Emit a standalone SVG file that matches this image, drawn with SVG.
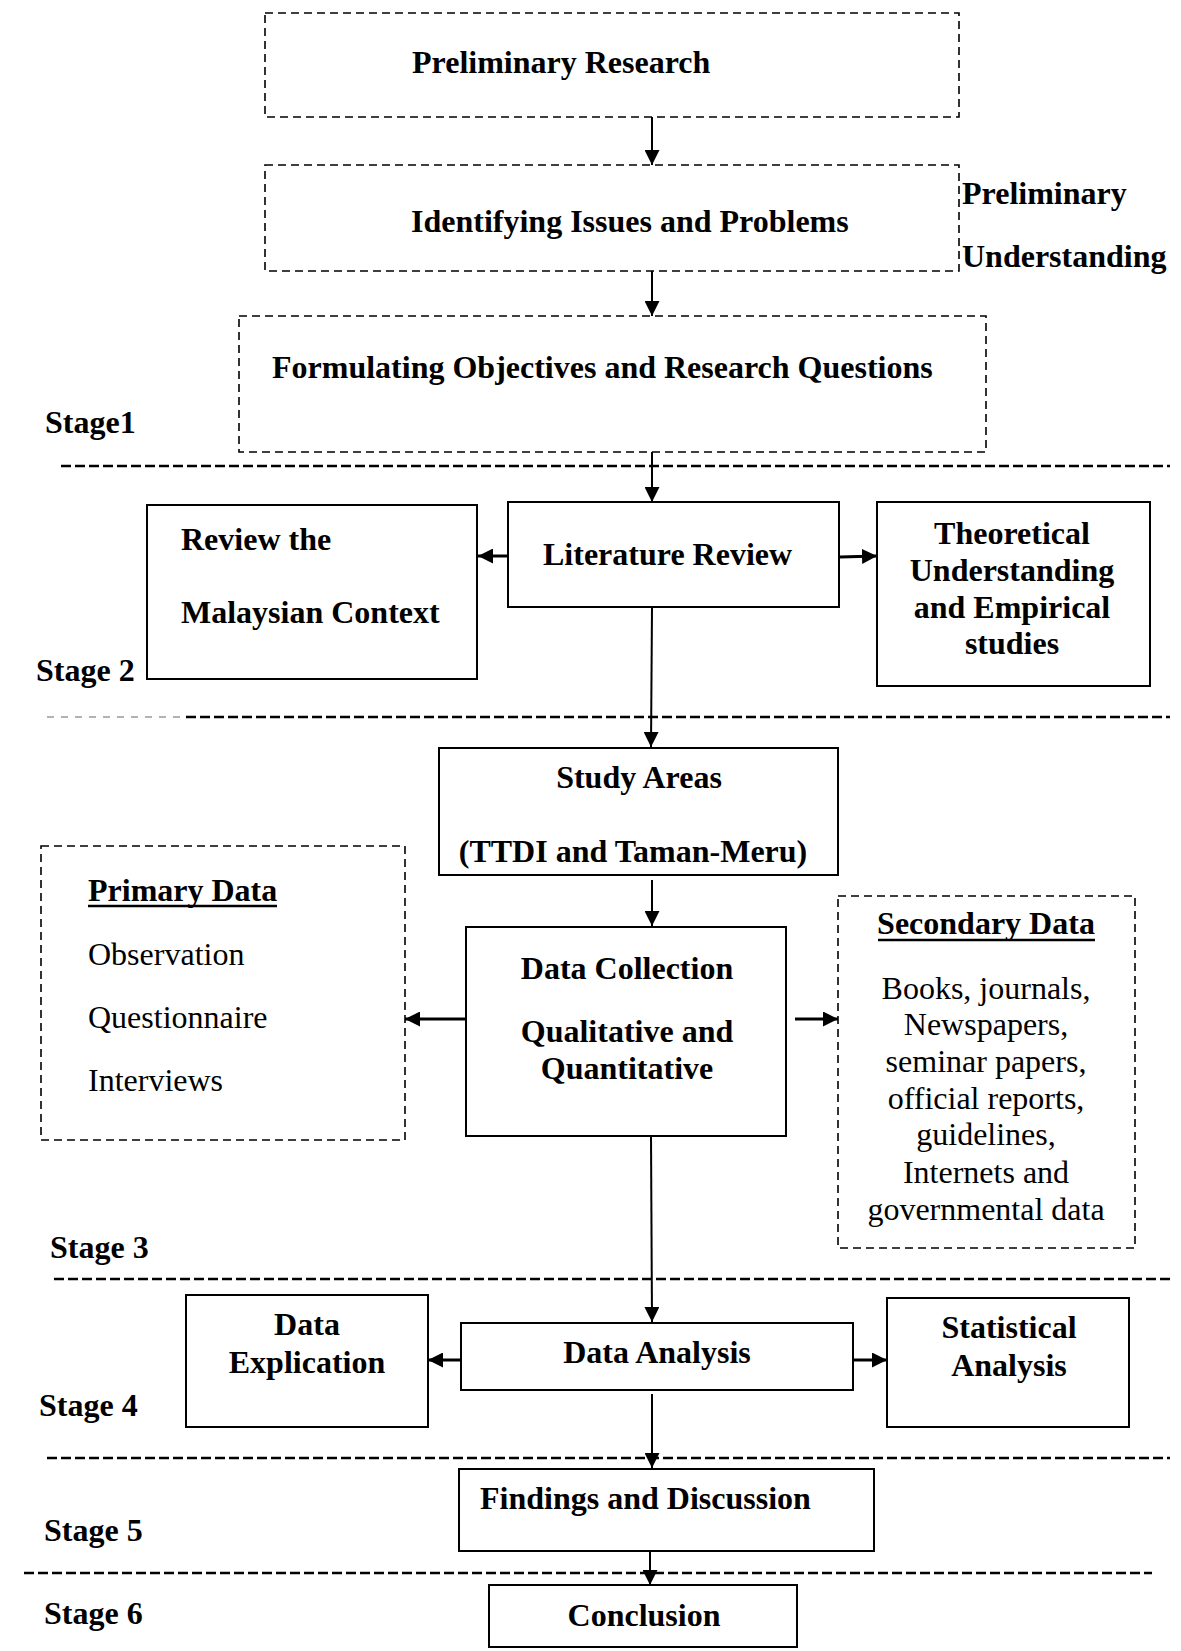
<svg xmlns="http://www.w3.org/2000/svg" width="1181" height="1651" viewBox="0 0 1181 1651">
<style>
  text { font-family: "Liberation Serif", "Times New Roman", serif; font-size: 32px; fill: #000; }
  .b { font-weight: bold; }
  .m { text-anchor: middle; }
  .box { fill: #fff; stroke: #000; stroke-width: 2; }
  .dbox { fill: #fff; stroke: #000; stroke-width: 1.6; stroke-dasharray: 8 5; }
  .sep { stroke: #000; stroke-width: 2.5; stroke-dasharray: 10 4; fill: none; }
  .sepg { stroke: #999; stroke-width: 1.3; stroke-dasharray: 7 7; fill: none; }
  .v { stroke: #000; stroke-width: 2; fill: none; marker-end: url(#ah); }
  .h { stroke: #000; stroke-width: 3; fill: none; marker-end: url(#ah); }
  .u { stroke: #000; stroke-width: 2.5; }
</style>
<defs>
  <marker id="ah" markerUnits="userSpaceOnUse" markerWidth="15" markerHeight="15" refX="15" refY="7.5" viewBox="0 0 15 15" orient="auto">
    <path d="M0,0 L15,7.5 L0,15 Z" fill="#000"/>
  </marker>
</defs>
<rect width="1181" height="1651" fill="#fff"/>

<g id="separators">
  <line class="sep" x1="61" y1="466" x2="1170" y2="466"/>
  <line class="sepg" x1="47" y1="717" x2="182" y2="717"/>
  <line class="sep" x1="186" y1="717" x2="1170" y2="717"/>
  <line class="sep" x1="54" y1="1279" x2="1170" y2="1279"/>
  <line class="sep" x1="47" y1="1458" x2="1170" y2="1458"/>
  <line class="sep" x1="24" y1="1573" x2="1152" y2="1573"/>
</g>

<g id="stage-labels">
  <text class="b" x="45" y="433">Stage1</text>
  <text class="b" x="36" y="681">Stage 2</text>
  <text class="b" x="50" y="1258">Stage 3</text>
  <text class="b" x="39" y="1416">Stage 4</text>
  <text class="b" x="44" y="1541">Stage 5</text>
  <text class="b" x="44" y="1624">Stage 6</text>
</g>

<g id="connectors">
  <line class="v" x1="652" y1="117" x2="652" y2="165"/>
  <line class="v" x1="652" y1="265" x2="652" y2="316"/>
  <line class="v" x1="652" y1="452" x2="652" y2="502"/>
  <line class="h" x1="510" y1="556" x2="478" y2="556"/>
  <line class="h" x1="840" y1="557" x2="877" y2="556"/>
  <line class="v" x1="652" y1="607" x2="651" y2="747"/>
  <line class="v" x1="652" y1="880" x2="652" y2="926"/>
  <line class="h" x1="465" y1="1019" x2="405" y2="1019"/>
  <line class="h" x1="795" y1="1019" x2="838" y2="1019"/>
  <line class="v" x1="651" y1="1136" x2="652" y2="1322"/>
  <line class="h" x1="461" y1="1360" x2="428" y2="1360"/>
  <line class="h" x1="853" y1="1360" x2="887" y2="1360"/>
  <line class="v" x1="652" y1="1394" x2="652" y2="1468"/>
  <line class="v" x1="650" y1="1546" x2="650" y2="1585"/>
</g>

<g id="preliminary-research">
  <rect class="dbox" x="265" y="13" width="694" height="104"/>
  <text class="b" x="412" y="73">Preliminary Research</text>
</g>

<g id="identifying-issues">
  <rect class="dbox" x="265" y="165" width="694" height="106"/>
  <text class="b" x="411" y="232">Identifying Issues and Problems</text>
</g>

<g id="preliminary-understanding">
  <text class="b" x="962" y="204">Preliminary</text>
  <text class="b" x="962" y="267">Understanding</text>
</g>

<g id="formulating-objectives">
  <rect class="dbox" x="239" y="316" width="747" height="136"/>
  <text class="b" x="272" y="378">Formulating Objectives and Research Questions</text>
</g>

<g id="review-malaysian-context">
  <rect class="box" x="147" y="505" width="330" height="174"/>
  <text class="b" x="181" y="550">Review the</text>
  <text class="b" x="181" y="623">Malaysian Context</text>
</g>

<g id="literature-review">
  <rect class="box" x="508" y="502" width="331" height="105"/>
  <text class="b" x="543" y="565">Literature Review</text>
</g>

<g id="theoretical-understanding">
  <rect class="box" x="877" y="502" width="273" height="184"/>
  <text class="b m" x="1012" y="544">Theoretical</text>
  <text class="b m" x="1012" y="581">Understanding</text>
  <text class="b m" x="1012" y="618">and Empirical</text>
  <text class="b m" x="1012" y="654">studies</text>
</g>

<g id="study-areas">
  <rect class="box" x="439" y="748" width="399" height="127"/>
  <text class="b m" x="639" y="788">Study Areas</text>
  <text class="b m" x="633" y="862">(TTDI and Taman-Meru)</text>
</g>

<g id="primary-data">
  <rect class="dbox" x="41" y="846" width="364" height="294"/>
  <text class="b" x="88" y="901">Primary Data</text>
  <line class="u" x1="88" y1="906" x2="277" y2="906"/>
  <text x="88" y="965">Observation</text>
  <text x="88" y="1028">Questionnaire</text>
  <text x="88" y="1091">Interviews</text>
</g>

<g id="data-collection">
  <rect class="box" x="466" y="927" width="320" height="209"/>
  <text class="b m" x="627" y="979">Data Collection</text>
  <text class="b m" x="627" y="1042">Qualitative and</text>
  <text class="b m" x="627" y="1079">Quantitative</text>
</g>

<g id="secondary-data">
  <rect class="dbox" x="838" y="896" width="297" height="352"/>
  <text class="b m" x="986" y="934">Secondary Data</text>
  <line class="u" x1="878" y1="940" x2="1095" y2="940"/>
  <text class="m" x="986" y="999">Books, journals,</text>
  <text class="m" x="986" y="1035">Newspapers,</text>
  <text class="m" x="986" y="1072">seminar papers,</text>
  <text class="m" x="986" y="1109">official reports,</text>
  <text class="m" x="986" y="1145">guidelines,</text>
  <text class="m" x="986" y="1183">Internets and</text>
  <text class="m" x="986" y="1220">governmental data</text>
</g>

<g id="data-explication">
  <rect class="box" x="186" y="1295" width="242" height="132"/>
  <text class="b m" x="307" y="1335">Data</text>
  <text class="b m" x="307" y="1373">Explication</text>
</g>

<g id="data-analysis">
  <rect class="box" x="461" y="1323" width="392" height="67"/>
  <text class="b m" x="657" y="1363">Data Analysis</text>
</g>

<g id="statistical-analysis">
  <rect class="box" x="887" y="1298" width="242" height="129"/>
  <text class="b m" x="1009" y="1338">Statistical</text>
  <text class="b m" x="1009" y="1376">Analysis</text>
</g>

<g id="findings-discussion">
  <rect class="box" x="459" y="1469" width="415" height="82"/>
  <text class="b" x="480" y="1509">Findings and Discussion</text>
</g>

<g id="conclusion">
  <rect class="box" x="489" y="1585" width="308" height="62"/>
  <text class="b m" x="644" y="1626">Conclusion</text>
</g>
</svg>
